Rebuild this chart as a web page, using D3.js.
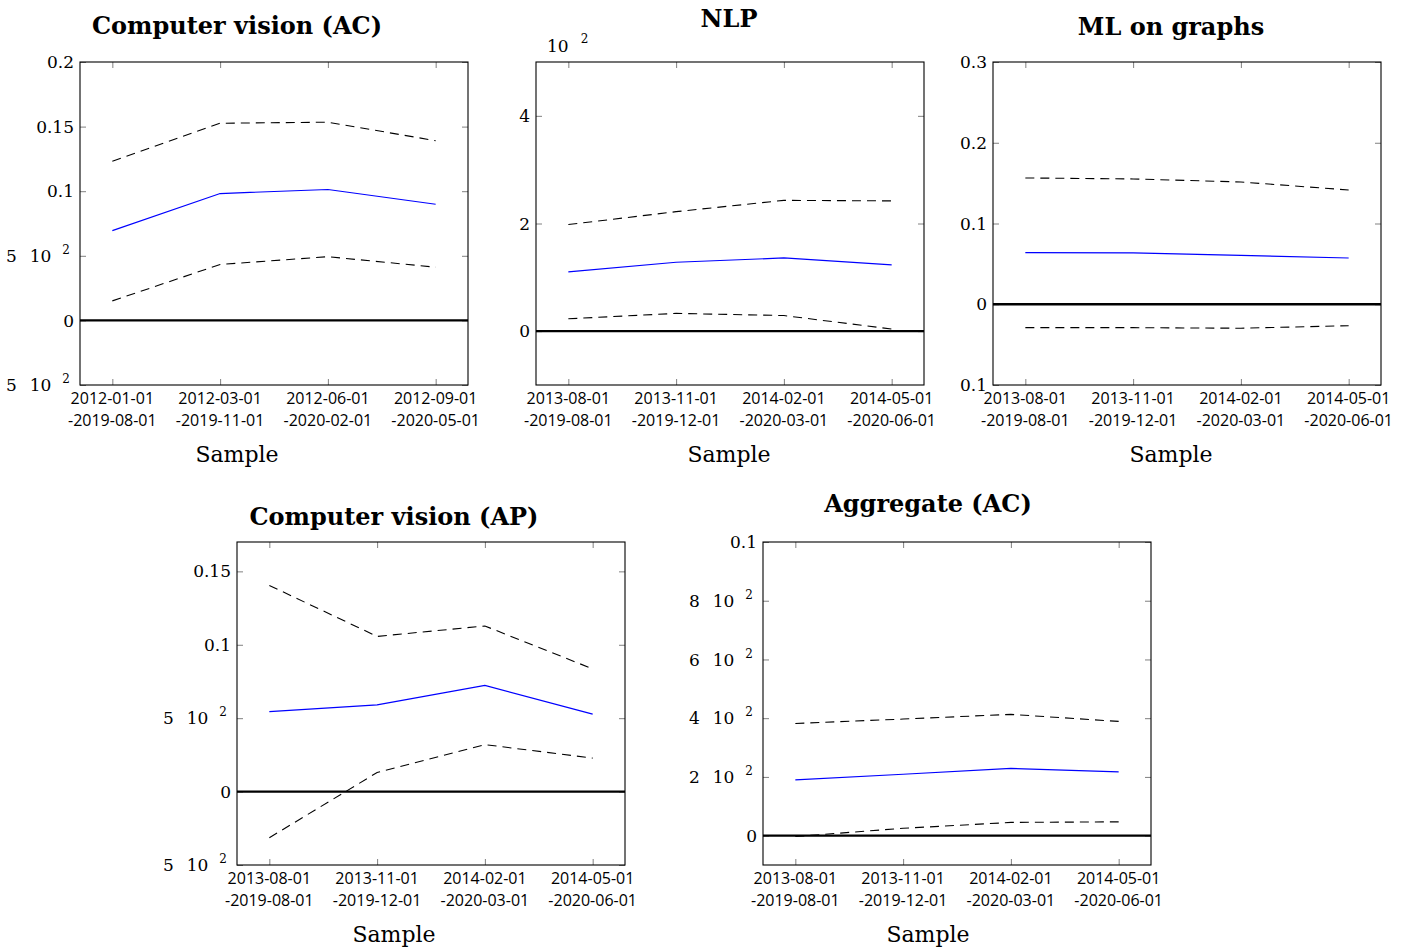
<!DOCTYPE html>
<html>
<head>
<meta charset="utf-8">
<script src="https://cdn.jsdelivr.net/npm/d3@7"></script>
<style>
  body { margin: 0; background: #fff; }
</style>
</head>
<body>
<svg id="chart" width="1412" height="947"></svg>
<script>
// sample windows (x categories)
const cvAcSamples = ["2012-01-01\n-2019-08-01", "2012-03-01\n-2019-11-01", "2012-06-01\n-2020-02-01", "2012-09-01\n-2020-05-01"];
const otherSamples = ["2013-08-01\n-2019-08-01", "2013-11-01\n-2019-12-01", "2014-02-01\n-2020-03-01", "2014-05-01\n-2020-06-01"];

// Computer vision (AC)
const cvAcMean  = [0.0695, 0.0982, 0.1013, 0.0899];
const cvAcUpper = [0.1231, 0.1526, 0.1534, 0.1391];
const cvAcLower = [0.0151, 0.0433, 0.0493, 0.0412];

// NLP (in units of 10^-2)
const nlpMean  = [1.10, 1.28, 1.36, 1.23];
const nlpUpper = [1.98, 2.22, 2.43, 2.42];
const nlpLower = [0.23, 0.33, 0.29, 0.04];

// ML on graphs
const mlgMean  = [0.0639, 0.0635, 0.0605, 0.0573];
const mlgUpper = [0.1564, 0.1552, 0.1514, 0.1415];
const mlgLower = [-0.029, -0.029, -0.0297, -0.0266];

// Computer vision (AP)
const cvApMean  = [0.0545, 0.0591, 0.0723, 0.0528];
const cvApUpper = [0.1404, 0.1057, 0.1128, 0.0836];
const cvApLower = [-0.0314, 0.0130, 0.0320, 0.0228];

// Aggregate (AC)
const aggMean  = [0.0190, 0.0209, 0.0229, 0.0217];
const aggUpper = [0.0382, 0.0397, 0.0413, 0.0389];
const aggLower = [-0.0003, 0.0025, 0.0045, 0.0047];

// y ticks and their labels (as printed)
const cvAcTicks = [-0.05, 0, 0.05, 0.1, 0.15, 0.2];
const cvAcTickLabels = ["5 10^2", "0", "5 10^2", "0.1", "0.15", "0.2"];
const nlpTicks = [0, 2, 4];
const nlpTickLabels = ["0", "2", "4"];
const mlgTicks = [-0.1, 0, 0.1, 0.2, 0.3];
const mlgTickLabels = ["0.1", "0", "0.1", "0.2", "0.3"];
const cvApTicks = [-0.05, 0, 0.05, 0.1, 0.15];
const cvApTickLabels = ["5 10^2", "0", "5 10^2", "0.1", "0.15"];
const aggTicks = [0, 0.02, 0.04, 0.06, 0.08, 0.1];
const aggTickLabels = ["0", "2 10^2", "4 10^2", "6 10^2", "8 10^2", "0.1"];

const W = 388, H = 323;
const serif = "DejaVu Serif";

const panels = [
  { title: "Computer vision (AC)", left: 80, top: 62, cx: 237, titleY: 34,
    samples: cvAcSamples, mean: cvAcMean, upper: cvAcUpper, lower: cvAcLower,
    domain: [-0.05, 0.2], ticks: cvAcTicks, tickLabels: cvAcTickLabels },
  { title: "NLP", left: 536, top: 62, cx: 729, titleY: 27, scaleLabel: "10^2",
    samples: otherSamples, mean: nlpMean, upper: nlpUpper, lower: nlpLower,
    domain: [-1, 5], ticks: nlpTicks, tickLabels: nlpTickLabels },
  { title: "ML on graphs", left: 993, top: 62, cx: 1171, titleY: 35,
    samples: otherSamples, mean: mlgMean, upper: mlgUpper, lower: mlgLower,
    domain: [-0.1, 0.3], ticks: mlgTicks, tickLabels: mlgTickLabels },
  { title: "Computer vision (AP)", left: 237, top: 542, cx: 394, titleY: 525,
    samples: otherSamples, mean: cvApMean, upper: cvApUpper, lower: cvApLower,
    domain: [-0.05, 0.17], ticks: cvApTicks, tickLabels: cvApTickLabels },
  { title: "Aggregate (AC)", left: 763, top: 542, cx: 928, titleY: 512,
    samples: otherSamples, mean: aggMean, upper: aggUpper, lower: aggLower,
    domain: [-0.01, 0.1], ticks: aggTicks, tickLabels: aggTickLabels }
];

const svg = d3.select("#chart");

// writes "5 10^2" as 5, gap, 10, raised 2 (the dot and minus are missing in the source)
function writeLabel(text, str) {
  const m = str.match(/^(\S+) 10\^(\d+)$/);
  if (!m) { text.text(str); return false; }
  text.append("tspan").text(m[1]);
  text.append("tspan").attr("dx", 13).text("10");
  text.append("tspan").attr("dx", 11).attr("dy", -8).attr("font-size", 12).text(m[2]);
  return true;
}

function drawPanel(p) {
  const g = svg.append("g");
  const x = d3.scaleLinear().domain([-0.3, 3.3]).range([p.left, p.left + W]);
  const y = d3.scaleLinear().domain(p.domain).range([p.top + H, p.top]);
  const idx = d3.range(p.samples.length);

  // inner tick marks on all four sides
  const axes = [
    [d3.axisBottom(x).tickValues(idx), `translate(0,${p.top + H})`],
    [d3.axisTop(x).tickValues(idx), `translate(0,${p.top})`],
    [d3.axisLeft(y).tickValues(p.ticks), `translate(${p.left},0)`],
    [d3.axisRight(y).tickValues(p.ticks), `translate(${p.left + W},0)`]
  ];
  axes.forEach(([ax, tr]) => {
    const a = g.append("g").attr("transform", tr)
      .call(ax.tickSize(-6).tickSizeOuter(0).tickFormat(""));
    a.select(".domain").remove();
    a.selectAll(".tick line").attr("stroke", "#808080").attr("stroke-width", 1);
  });

  // y labels
  p.ticks.forEach((t, i) => {
    const txt = g.append("text")
      .attr("y", y(t)).attr("dy", "0.36em")
      .attr("text-anchor", "end")
      .attr("font-family", serif).attr("font-size", 17).attr("fill", "#000");
    const sci = writeLabel(txt, p.tickLabels[i]);
    txt.attr("x", p.left - (sci ? 10 : 6));
  });

  // x labels, two lines
  p.samples.forEach((s, i) => {
    const lines = s.split("\n");
    const txt = g.append("text")
      .attr("x", x(i)).attr("y", p.top + H + 19)
      .attr("text-anchor", "middle")
      .attr("font-family", "Open Sans").attr("font-size", 16).attr("fill", "#000");
    lines.forEach((l, k) => {
      txt.append("tspan").attr("x", x(i)).attr("dy", k ? 22 : 0).text(l);
    });
  });

  // common scale label above the axis
  if (p.scaleLabel) {
    const m = p.scaleLabel.match(/^10\^(\d+)$/);
    const txt = g.append("text").attr("x", p.left + 11).attr("y", p.top - 10)
      .attr("font-family", serif).attr("font-size", 17);
    txt.append("tspan").text("10");
    txt.append("tspan").attr("dx", 12).attr("dy", -9).attr("font-size", 12).text(m[1]);
  }

  const line = d3.line().x((d, i) => x(i)).y(d => y(d));

  // zero line
  g.append("line")
    .attr("x1", x.range()[0]).attr("x2", x.range()[1])
    .attr("y1", y(0)).attr("y2", y(0))
    .attr("stroke", "#000").attr("stroke-width", 2.4);

  [p.upper, p.lower].forEach(series => {
    g.append("path").datum(series).attr("d", line)
      .attr("fill", "none").attr("stroke", "#000")
      .attr("stroke-width", 1.1).attr("stroke-dasharray", "9,6");
  });
  g.append("path").datum(p.mean).attr("d", line)
    .attr("fill", "none").attr("stroke", "#0000ff").attr("stroke-width", 1.2);

  // frame
  g.append("rect").attr("x", p.left).attr("y", p.top)
    .attr("width", W).attr("height", H)
    .attr("fill", "none").attr("stroke", "#000").attr("stroke-width", 1.1);

  g.append("text").attr("x", p.cx).attr("y", p.titleY)
    .attr("text-anchor", "middle")
    .attr("font-family", serif).attr("font-weight", "bold")
    .attr("font-size", 24).text(p.title);

  g.append("text").attr("x", p.cx).attr("y", p.top + H + 77)
    .attr("text-anchor", "middle")
    .attr("font-family", serif).attr("font-size", 22).text("Sample");
}

panels.forEach(drawPanel);
</script>
</body>
</html>
